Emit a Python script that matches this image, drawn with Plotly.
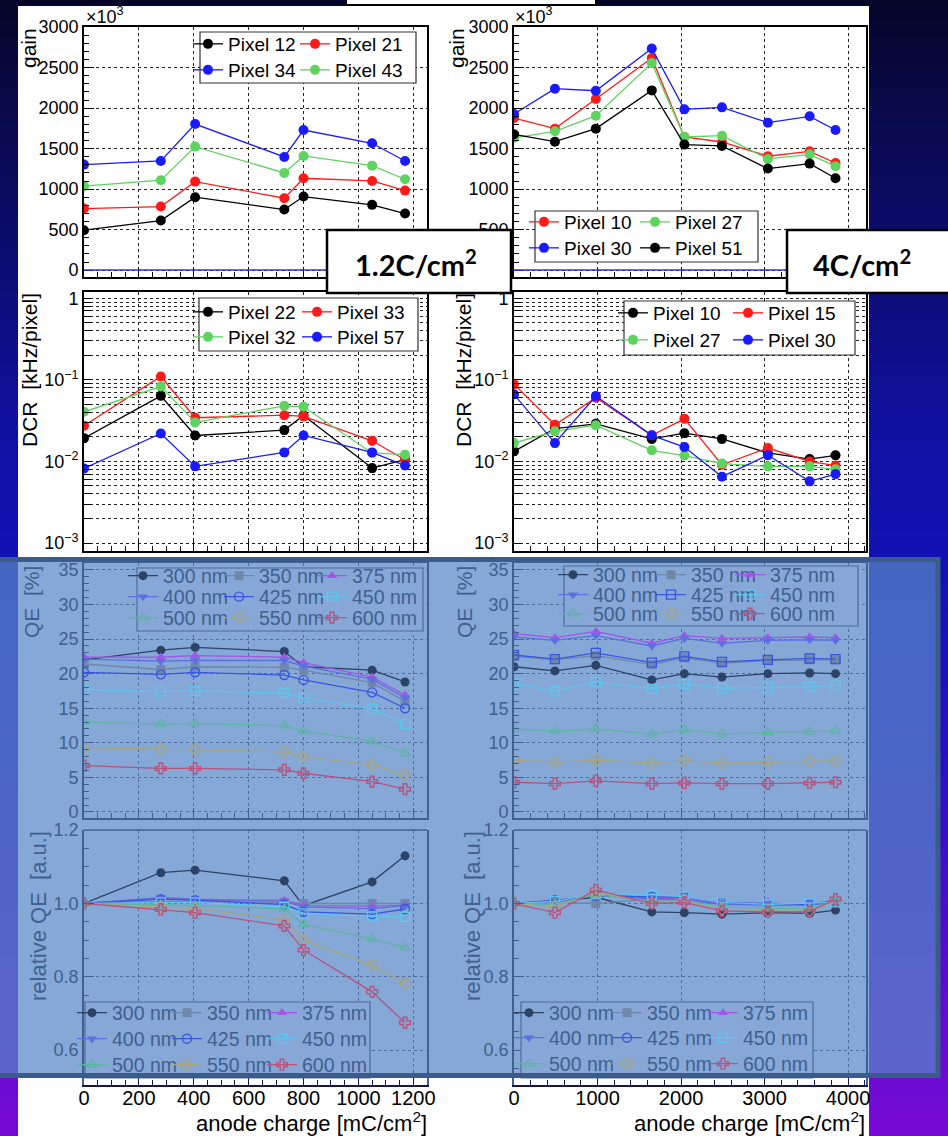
import plotly.graph_objects as go
import zlib, struct, base64

W, H = 948, 1136
def fx(p): return p / W
def fy(p): return 1 - p / H

# ---------------- data ----------------
X_L = [0, 280, 405, 730, 800, 1050, 1170]
X_R = [0, 490, 980, 1650, 2040, 2490, 3040, 3540, 3850]

# gain (x10^3)
GAIN_L_NAMES = ["Pixel 12", "Pixel 21", "Pixel 34", "Pixel 43"]
GAIN_L_P12 = [493, 612, 900, 748, 908, 806, 699]
GAIN_L_P21 = [760, 785, 1093, 888, 1134, 1101, 982]
GAIN_L_P34 = [1303, 1348, 1804, 1397, 1730, 1566, 1348]
GAIN_L_P43 = [1036, 1110, 1525, 1200, 1410, 1290, 1122]

GAIN_R_NAMES = ["Pixel 10", "Pixel 27", "Pixel 30", "Pixel 51"]
GAIN_R_P10 = [1878, 1747, 2113, 2618, 1644, 1582, 1406, 1467, 1323]
GAIN_R_P27 = [1632, 1714, 1907, 2556, 1644, 1660, 1373, 1430, 1282]
GAIN_R_P30 = [1928, 2240, 2215, 2737, 1985, 2010, 1821, 1899, 1730]
GAIN_R_P51 = [1677, 1586, 1747, 2219, 1550, 1533, 1254, 1315, 1134]

# DCR [kHz/pixel]
DCR_L_NAMES = ["Pixel 22", "Pixel 33", "Pixel 32", "Pixel 57"]
DCR_L_P22 = [0.0193, 0.0637, 0.0208, 0.0242, 0.0366, 0.00828, 0.0105]
DCR_L_P33 = [0.0274, 0.110, 0.0343, 0.0369, 0.0356, 0.0179, 0.0105]
DCR_L_P32 = [0.0406, 0.0828, 0.0301, 0.0481, 0.0467, 0.0127, 0.0121]
DCR_L_P57 = [0.0082, 0.0220, 0.0087, 0.0129, 0.0208, 0.0129, 0.0089]

DCR_R_NAMES = ["Pixel 10", "Pixel 15", "Pixel 27", "Pixel 30"]
DCR_R_P10 = [0.0133, 0.0253, 0.0289, 0.0189, 0.0222, 0.0189, 0.0127, 0.0107, 0.0119]
DCR_R_P15 = [0.0885, 0.0281, 0.0605, 0.0209, 0.0333, 0.0091, 0.0146, 0.0100, 0.0089]
DCR_R_P27 = [0.0168, 0.0234, 0.0278, 0.0137, 0.0118, 0.0094, 0.0087, 0.0087, 0.0080]
DCR_R_P30 = [0.0665, 0.0168, 0.0634, 0.0209, 0.0150, 0.0065, 0.0119, 0.0057, 0.0070]

# QE [%]
WAVELENGTHS = ["300 nm", "350 nm", "375 nm", "400 nm", "425 nm", "450 nm", "500 nm", "550 nm", "600 nm"]
QE_L = [
    [22.0, 23.4, 23.8, 23.2, 21.0, 20.5, 18.8],
    [21.4, 20.6, 21.0, 20.9, 20.5, 18.7, 16.0],
    [22.4, 22.4, 22.6, 22.4, 21.6, 19.5, 16.9],
    [22.1, 21.8, 21.9, 21.9, 21.1, 19.2, 16.5],
    [20.2, 19.9, 20.2, 19.8, 19.1, 17.3, 15.0],
    [17.7, 17.4, 17.5, 17.2, 16.5, 14.9, 12.7],
    [13.0, 12.7, 12.8, 12.5, 11.7, 10.2, 8.5],
    [9.3, 9.1, 9.0, 8.7, 8.0, 6.8, 5.4],
    [6.7, 6.3, 6.3, 6.1, 5.6, 4.4, 3.3],
]
QE_R = [
    [21.0, 20.4, 21.2, 19.1, 20.0, 19.5, 20.0, 20.1, 20.0],
    [22.5, 22.0, 22.6, 21.3, 22.3, 21.5, 21.9, 22.0, 22.0],
    [25.8, 25.2, 26.1, 24.4, 25.5, 25.1, 25.2, 25.3, 25.2],
    [25.3, 24.8, 25.5, 24.0, 25.1, 24.4, 24.8, 24.9, 24.8],
    [22.7, 22.1, 23.0, 21.6, 22.5, 21.7, 22.0, 22.2, 22.1],
    [18.6, 17.5, 18.8, 17.8, 18.5, 17.9, 18.0, 18.1, 18.3],
    [12.0, 11.7, 12.0, 11.3, 11.9, 11.3, 11.5, 11.6, 11.7],
    [7.5, 7.2, 7.5, 7.1, 7.4, 7.1, 7.2, 7.3, 7.4],
    [4.3, 4.1, 4.5, 4.1, 4.2, 4.1, 4.1, 4.2, 4.3],
]
# relative QE [a.u.]
REL_L = [
    [1.0, 1.084, 1.091, 1.062, 0.994, 1.059, 1.130],
    [1.0, 1.006, 1.005, 1.003, 1.0, 1.0, 1.0],
    [1.0, 1.014, 1.009, 1.009, 0.994, 0.993, 0.995],
    [1.0, 1.016, 1.012, 1.006, 0.991, 0.986, 0.994],
    [1.0, 1.012, 1.009, 0.997, 0.977, 0.971, 0.985],
    [1.0, 1.003, 1.003, 0.991, 0.973, 0.965, 0.964],
    [1.0, 0.997, 0.995, 0.985, 0.943, 0.903, 0.880],
    [1.0, 0.991, 0.986, 0.956, 0.900, 0.832, 0.782],
    [1.0, 0.984, 0.975, 0.939, 0.873, 0.759, 0.675],
]
REL_R = [
    [1.0, 1.006, 1.017, 0.977, 0.975, 0.971, 0.975, 0.973, 0.982],
    [1.0, 1.003, 1.0, 1.012, 1.009, 0.998, 0.996, 0.996, 1.003],
    [1.0, 1.003, 1.026, 1.015, 1.012, 1.0, 0.998, 0.998, 1.009],
    [1.0, 1.006, 1.024, 1.012, 1.010, 0.998, 0.996, 0.996, 1.006],
    [1.0, 1.009, 1.021, 1.018, 1.017, 1.003, 1.0, 0.998, 1.005],
    [1.0, 1.006, 1.026, 1.024, 1.019, 1.003, 0.998, 1.0, 1.003],
    [1.0, 0.998, 1.024, 1.006, 1.009, 0.991, 0.987, 0.987, 1.006],
    [1.0, 0.991, 1.030, 1.003, 1.006, 0.984, 0.980, 0.980, 1.009],
    [1.0, 0.975, 1.037, 1.0, 1.003, 0.980, 0.977, 0.978, 1.012],
]

REL_TICKS = [0.6, 0.8, 1.0, 1.2]
REL_TICKTEXT = ["0.6", "0.8", "1.0", "1.2"]

# ---------------- styles ----------------
FONT = "Liberation Sans"
BLACK, RED, BLUE, GREEN = "#000000", "#ff1a1a", "#1a1aff", "#5fd35f"
WL_COLORS = ["#2c4266", "#6f87aa", "#a056e6", "#5f6fe2", "#3a55e0",
             "#5fc4ee", "#5db5a3", "#a6a47e", "#b8527f"]
WL_SYM_L = ["circle", "square", "triangle-up", "triangle-down", "circle-open",
            "square-open", "triangle-up-open", "diamond-open", "cross-open"]
WL_SYM_QR = list(WL_SYM_L); WL_SYM_QR[4] = "square-open"
TXT_T = "#40608f"
GRID_T = "#4d6d9c"
BG_T = "#87a8d6"

COLX = {"L": (84, 427), "R": (514, 866)}
ROWY = {"gain": (27, 277), "dcr": (292, 551), "qe": (563, 818), "rel": (830, 1085)}

fig = go.Figure()
layout_axes = {}
legends = {}
shapes = []
annotations = []
lc = [0]

def new_legend(x_text, y_row, size, color):
    lc[0] += 1
    n = lc[0]
    name = "legend" if n == 1 else "legend%d" % n
    legends[name] = dict(x=fx(x_text - 40), y=fy(y_row), xanchor="left", yanchor="middle",
                         bgcolor="rgba(0,0,0,0)", borderwidth=0, itemwidth=30,
                         font=dict(family=FONT, size=size, color=color),
                         tracegroupgap=0, orientation="v")
    return name

def ax_names(i):
    return ("x" if i == 1 else "x%d" % i), ("y" if i == 1 else "y%d" % i)

def add_series(i, xs, ys, name, color, symbol, size, leg, err=False):
    xa, ya = ax_names(i)
    openm = symbol.endswith("open")
    tr = go.Scatter(x=xs, y=ys, name=name, mode="lines+markers", xaxis=xa, yaxis=ya,
                    line=dict(color=color, width=1.3),
                    marker=dict(color=color, symbol=symbol, size=size,
                                line=dict(color=color, width=1.4 if openm else 0)),
                    legend=leg, showlegend=True)
    if err:
        tr.error_y = dict(type="percent", value=10, color=color, thickness=1.2, width=3)
    fig.add_trace(tr)

def setup_axes(i, col, row, xrng, yrng, xdt, xminor, ylog=False, ydt=None, yminor=None,
               tinted=False, xlabels=False, ytickvals=None, yticktext=None):
    xa, ya = ax_names(i)
    c = TXT_T if tinted else "#000000"
    g = GRID_T if tinted else "#222222"
    x0, x1 = COLX[col]; t, b = ROWY[row]
    xkey = "xaxis" if i == 1 else "xaxis%d" % i
    ykey = "yaxis" if i == 1 else "yaxis%d" % i
    xline = "#141450" if row == "rel" else c
    layout_axes[xkey] = dict(domain=[fx(x0), fx(x1)], anchor=ya, range=xrng,
        showline=True, linecolor=xline, linewidth=1.6 if row != "rel" else 2.2,
        mirror=(row != "rel"),
        ticks="inside", ticklen=10, tickwidth=1, tickcolor=(xline if row == "rel" else c),
        tickmode="linear", tick0=0, dtick=xdt,
        minor=dict(ticks="inside", ticklen=5, dtick=xminor, tick0=0,
                   tickcolor=(xline if row == "rel" else c), showgrid=False),
        showgrid=True, gridcolor=g, griddash="dot", gridwidth=1, zeroline=False,
        showticklabels=xlabels, ticklabelstandoff=-6,
        tickfont=dict(family=FONT, size=20, color="#000000"))
    yd = dict(domain=[fy(b), fy(t)], anchor=xa, range=yrng,
        showline=True, linecolor=c, linewidth=1.6, mirror=True,
        ticks="inside", ticklen=10, tickwidth=1, tickcolor=c,
        showgrid=True, gridcolor=g, griddash="dot", gridwidth=1, zeroline=False,
        tickfont=dict(family=FONT, size=18, color=c))
    if ylog:
        yd.update(type="log", tickmode="array", tickvals=ytickvals, ticktext=yticktext, ticklen=7)
    elif ytickvals is not None:
        yd.update(tickmode="array", tickvals=ytickvals, ticktext=yticktext,
                  minor=dict(ticks="inside", ticklen=5, dtick=yminor, tick0=0, tickcolor=c, showgrid=False))
    else:
        yd.update(tickmode="linear", tick0=0, dtick=ydt,
                  minor=dict(ticks="inside", ticklen=5, dtick=yminor, tick0=0, tickcolor=c, showgrid=False))
    layout_axes[ykey] = yd

XL_RNG = [0, 1250]
XR_RNG = [0, 4215]

setup_axes(1, "L", "gain", XL_RNG, [-85, 3002], 200, 50, ydt=500, yminor=100)
setup_axes(2, "R", "gain", XR_RNG, [-85, 3002], 1000, 200, ydt=500, yminor=100)
dec_vals, dec_txt = [], []
for e in [-3, -2, -1]:
    for k in range(1, 10):
        dec_vals.append(k * 10 ** e)
        dec_txt.append(("10<sup>\u2212%d</sup>" % (-e)) if k == 1 else " ")
dec_vals.append(1); dec_txt.append("1")
setup_axes(3, "L", "dcr", XL_RNG, [-3.098, 0.077], 200, 50, ylog=True, ytickvals=dec_vals, yticktext=dec_txt)
setup_axes(4, "R", "dcr", XR_RNG, [-3.098, 0.077], 1000, 200, ylog=True, ytickvals=dec_vals, yticktext=dec_txt)
setup_axes(5, "L", "qe", XL_RNG, [-0.87, 36.0], 200, 50, ydt=5, yminor=1, tinted=True)
setup_axes(6, "R", "qe", XR_RNG, [-0.87, 36.0], 1000, 200, ydt=5, yminor=1, tinted=True)
setup_axes(7, "L", "rel", XL_RNG, [0.505, 1.2005], 200, 50, tinted=True, xlabels=True,
           ytickvals=REL_TICKS, yticktext=REL_TICKTEXT, yminor=0.05)
setup_axes(8, "R", "rel", XR_RNG, [0.505, 1.2005], 1000, 200, tinted=True, xlabels=True,
           ytickvals=REL_TICKS, yticktext=REL_TICKTEXT, yminor=0.05)

# ---------------- traces + legends ----------------
def pixel_panel(i, xs, series, names, colors, cols, rows, err=False):
    k = 0
    for r in range(2):
        for cI in range(2):
            leg = new_legend(cols[cI], rows[r], 19, "#000000")
            add_series(i, xs, series[k], names[k], colors[k], "circle", 10, leg, err)
            k += 1

pixel_panel(1, X_L, [GAIN_L_P12, GAIN_L_P21, GAIN_L_P34, GAIN_L_P43], GAIN_L_NAMES,
            [BLACK, RED, BLUE, GREEN], [228, 335], [44, 70])
pixel_panel(2, X_R, [GAIN_R_P10, GAIN_R_P27, GAIN_R_P30, GAIN_R_P51], GAIN_R_NAMES,
            [RED, GREEN, BLUE, BLACK], [564, 675], [222, 248])
pixel_panel(3, X_L, [DCR_L_P22, DCR_L_P33, DCR_L_P32, DCR_L_P57], DCR_L_NAMES,
            [BLACK, RED, GREEN, BLUE], [228, 337], [312, 337], err=True)
pixel_panel(4, X_R, [DCR_R_P10, DCR_R_P15, DCR_R_P27, DCR_R_P30], DCR_R_NAMES,
            [BLACK, RED, GREEN, BLUE], [653, 768], [313, 340], err=True)

def wl_panel(i, xs, data, symbols, cols, rows):
    for k in range(9):
        leg = new_legend(cols[k % 3] + 4, rows[k // 3], 19.5, TXT_T)
        add_series(i, xs, data[k], WAVELENGTHS[k], WL_COLORS[k], symbols[k], 9, leg)

wl_panel(5, X_L, QE_L, WL_SYM_L, [159, 255, 348], [576, 597, 618])
wl_panel(6, X_R, QE_R, WL_SYM_QR, [589, 687, 766], [575, 595, 614])
wl_panel(7, X_L, REL_L, WL_SYM_L, [108, 203, 298], [1013, 1039, 1065])
wl_panel(8, X_R, REL_R, WL_SYM_L, [545, 643, 739], [1013, 1038, 1064])

# ---------------- background image (gradient) ----------------
STOPS = [(0, (5, 5, 40)), (100, (9, 9, 72)), (250, (12, 12, 112)), (450, (16, 16, 165)),
         (560, (18, 18, 180)), (750, (38, 18, 195)), (900, (72, 14, 202)),
         (1000, (96, 12, 206)), (1136, (118, 10, 212))]
def grad(y):
    for (y0, c0), (y1, c1) in zip(STOPS[:-1], STOPS[1:]):
        if y0 <= y <= y1:
            t = (y - y0) / (y1 - y0)
            return tuple(int(round(a + (b - a) * t)) for a, b in zip(c0, c1))
    return STOPS[-1][1]
def png_uri(wpx, hpx):
    raw = b"".join(b"\x00" + bytes(grad(y)) * wpx for y in range(hpx))
    def chunk(t, d):
        return struct.pack(">I", len(d)) + t + d + struct.pack(">I", zlib.crc32(t + d) & 0xffffffff)
    ihdr = struct.pack(">IIBBBBB", wpx, hpx, 8, 2, 0, 0, 0)
    png = b"\x89PNG\r\n\x1a\n" + chunk(b"IHDR", ihdr) + chunk(b"IDAT", zlib.compress(raw)) + chunk(b"IEND", b"")
    return "data:image/png;base64," + base64.b64encode(png).decode()

images = [dict(source=png_uri(4, H), xref="paper", yref="paper", x=0, y=1, sizex=1, sizey=1,
               sizing="stretch", xanchor="left", yanchor="top", layer="below")]

# ---------------- shapes ----------------
def prect(x0, y0, x1, y1, **kw):
    d = dict(type="rect", xref="paper", yref="paper", x0=fx(x0), x1=fx(x1), y0=fy(y1), y1=fy(y0))
    d.update(kw)
    return d

shapes.append(prect(18, 6, 869, 1140, fillcolor="white", line=dict(width=0), layer="below"))
shapes.append(prect(-5, 557, 940, 1078, fillcolor="rgba(88,134,198,0.72)", line=dict(width=0), layer="below"))
for i in (1, 2):
    xa, ya = ax_names(i)
    shapes.append(dict(type="line", xref=xa + " domain", yref=ya, x0=0, x1=1, y0=0, y1=0,
                       line=dict(color="#3535e0", width=1.5), layer="above"))
for i in (7, 8):
    xa, ya = ax_names(i)
    shapes.append(dict(type="line", xref=xa + " domain", yref=ya + " domain", x0=0, x1=1, y0=1, y1=1,
                       line=dict(color=TXT_T, width=1.6), layer="above"))
LEG_BOXES = [((200, 32, 416, 83), "white", "#333333"), ((535, 211, 758, 262), "white", "#333333"),
             ((199, 298, 418, 351), "white", "#333333"), ((624, 301, 855, 355), "white", "#333333"),
             ((137, 568, 423, 631), BG_T, GRID_T), ((564, 566, 858, 626), BG_T, GRID_T),
             ((85, 1002, 370, 1078), BG_T, GRID_T), ((521, 1002, 813, 1078), BG_T, GRID_T)]
for (x0, y0, x1, y1), fc, lcol in LEG_BOXES:
    shapes.append(prect(x0, y0, x1, y1, fillcolor=fc, line=dict(color=lcol, width=1.2), layer="above"))
shapes.append(prect(-3, 559.5, 938, 1075.5, fillcolor="rgba(0,0,0,0)",
                    line=dict(color="#3b5b8b", width=5), layer="above"))
shapes.append(prect(346, -4, 596, 5, fillcolor="white", line=dict(color="black", width=2), layer="above"))
shapes.append(prect(327, 230, 511, 293, fillcolor="white", line=dict(color="black", width=2.5), layer="above"))
shapes.append(prect(787, 230, 955, 293, fillcolor="white", line=dict(color="black", width=2.5), layer="above"))

# ---------------- annotations ----------------
def ann(text, x, y, size, color="#000000", angle=0, xanchor="center", yanchor="middle", family=FONT):
    annotations.append(dict(text=text, x=fx(x), y=fy(y), xref="paper", yref="paper",
                            showarrow=False, textangle=angle, xanchor=xanchor, yanchor=yanchor,
                            font=dict(family=family, size=size, color=color)))

ann("gain", 28, 26, 21, angle=-90, yanchor="top")
ann("gain", 456, 26, 21, angle=-90, yanchor="top")
ann("\u00d710<sup>3</sup>", 84, 29, 18, xanchor="left", yanchor="bottom")
ann("\u00d710<sup>3</sup>", 513, 29, 18, xanchor="left", yanchor="bottom")
ann("DCR  [kHz/pixel]", 29, 291, 21, angle=-90, yanchor="top")
ann("DCR  [kHz/pixel]", 463, 291, 21, angle=-90, yanchor="top")
ann("QE  [%]", 31, 564, 21, color=TXT_T, angle=-90, yanchor="top")
ann("QE  [%]", 464, 564, 21, color=TXT_T, angle=-90, yanchor="top")
ann("relative QE  [a.u.]", 38, 829, 22, color=TXT_T, angle=-90, yanchor="top")
ann("relative QE  [a.u.]", 472, 829, 22, color=TXT_T, angle=-90, yanchor="top")
ann("anode charge [mC/cm<sup>2</sup>]", 429, 1138, 22, xanchor="right", yanchor="bottom")
ann("anode charge [mC/cm<sup>2</sup>]", 867, 1138, 22, xanchor="right", yanchor="bottom")
ann("<b>1.2C/cm<sup>2</sup></b>", 416, 263, 29, family="Lato")
ann("<b>4C/cm<sup>2</sup></b>", 862, 263, 29, family="Lato")

fig.update_layout(width=W, height=H, margin=dict(l=0, r=0, t=0, b=0, pad=0, autoexpand=False),
                  paper_bgcolor="#0a0a50", plot_bgcolor="rgba(0,0,0,0)",
                  showlegend=True, shapes=shapes, annotations=annotations, images=images,
                  **layout_axes, **legends)

POST = ("document.documentElement.style.margin='0';document.documentElement.style.padding='0';"
        "document.body.style.margin='0';document.body.style.padding='0';"
        "document.body.style.overflow='hidden';"
        "var d=document.getElementById('{plot_id}');d.style.position='absolute';"
        "d.style.left='0px';d.style.top='0px';")
fig.write_html("out.html", post_script=POST, config={"displayModeBar": False})
